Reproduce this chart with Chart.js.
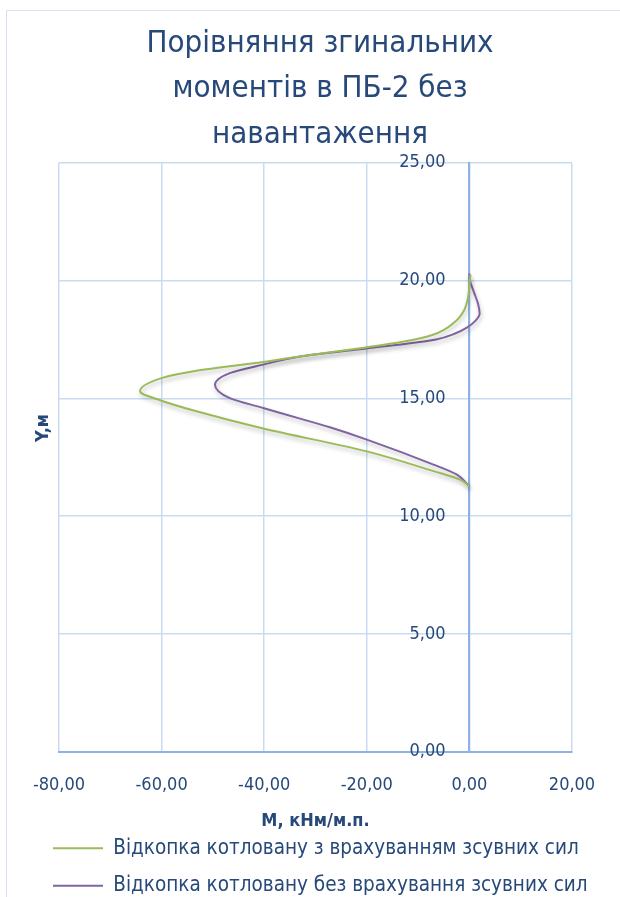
<!DOCTYPE html>
<html><head><meta charset="utf-8">
<script src="https://cdn.jsdelivr.net/npm/chart.js@4/dist/chart.umd.min.js"></script>
<style>
html,body{margin:0;padding:0;background:#fff;}
#frame{position:absolute;left:6px;top:10px;width:630px;height:900px;border:1px solid #d6e2f2;box-sizing:border-box;}
#wrap{position:absolute;left:0;top:0;width:620px;height:897px;}
</style></head>
<body>
<div id="frame"></div>
<div id="wrap"><canvas id="c" width="620" height="897"></canvas></div>
<script>
const titleLines = ['Порівняння згинальних', 'моментів в ПБ-2 без', 'навантаження'];
const seriesNames = ['Відкопка котловану з врахуванням зсувних сил', 'Відкопка котловану без врахування зсувних сил'];
const xTitle = 'М, кНм/м.п.';
const yTitle = 'Y,м';
const xTicks = [-80, -60, -40, -20, 0, 20];
const yTicks = [0, 5, 10, 15, 20, 25];

const greenY = [20.25, 19.75, 19.25, 18.75, 18.25, 17.7, 17.4, 17.15, 16.78, 16.54, 16.17, 15.86, 15.3, 14.9, 14.45, 13.72, 12.75, 11.91, 11.55, 11.27];
const greenM = [0.2, 0.0, -0.3, -1.0, -2.8, -7.1, -13.0, -20.5, -33.0, -40.2, -53.2, -60.0, -64.2, -60.0, -53.2, -40.2, -20.0, -7.0, -1.8, 0.0];
const purpleY = [20.3, 20.0, 19.5, 19.0, 18.6, 18.3, 18.0, 17.75, 17.5, 17.3, 17.12, 16.78, 16.43, 16.07, 15.58, 15.01, 14.59, 14.14, 13.77, 13.25, 12.19, 11.77, 11.27];
const purpleM = [0.0, 0.1, 0.9, 1.7, 2.0, 1.2, -0.5, -2.8, -6.5, -13.0, -20.0, -33.0, -40.2, -46.7, -49.6, -46.7, -40.2, -33.0, -27.2, -20.0, -7.0, -2.5, 0.0];

const FONT = "'DejaVu Sans Condensed', 'Roboto', sans-serif";
const BLUE = '#27497a';
const GRID = '#c9dbf1';
const AXIS = '#8db3e2';
const fmt = v => v.toFixed(2).replace('.', ',');
const pts = (xs, ys) => xs.map((x, i) => ({x: x, y: ys[i]}));

const shadowPlugin = {
  id: 'shadow',
  beforeDatasetDraw(chart) { const c = chart.ctx; c.save(); c.shadowColor = 'rgba(0,0,0,0.25)'; c.shadowBlur = 4; c.shadowOffsetY = 3; c.shadowOffsetX = 1; },
  afterDatasetDraw(chart) { chart.ctx.restore(); }
};
const yTitlePlugin = {
  id: 'ytitle',
  afterDraw(chart) {
    const c = chart.ctx;
    c.save();
    c.translate(43, 428);
    c.rotate(-Math.PI / 2);
    c.fillStyle = BLUE; c.font = 'bold 18px ' + FONT;
    c.textAlign = 'center'; c.textBaseline = 'middle';
    c.fillText(yTitle, 0, 0);
    c.restore();
  }
};

const lineDs = (label, xs, ys, color) => ({
  label: label, data: pts(xs, ys), showLine: true, borderColor: color, backgroundColor: color,
  borderWidth: 2, pointRadius: 0, indexAxis: 'y', cubicInterpolationMode: 'monotone', pointStyle: 'line'
});
const padAxis = (pos, w) => ({
  type: 'linear', position: pos, display: true,
  ticks: {display: false}, grid: {display: false}, border: {display: false},
  afterFit: s => { s.width = w; }
});

new Chart(document.getElementById('c'), {
  type: 'scatter',
  data: {
    datasets: [
      lineDs(seriesNames[0], greenM, greenY, '#9bbb59'),
      lineDs(seriesNames[1], purpleM, purpleY, '#8064a2')
    ]
  },
  options: {
    responsive: false, animation: false,
    layout: {padding: {left: 36, right: 16, top: 0, bottom: -9}},
    plugins: {
      tooltip: {enabled: false},
      title: {display: true, text: titleLines, color: BLUE, font: {family: FONT, size: 31, weight: 'normal', lineHeight: 1.47}, padding: {top: 21, bottom: 5}},
      legend: {
        position: 'bottom', align: 'start',
        labels: {usePointStyle: true, pointStyle: 'line', pointStyleWidth: 50, boxHeight: 2, color: BLUE, font: {family: FONT, size: 20.5}, padding: 17}
      }
    },
    scales: {
      x: {
        type: 'linear', min: -80, max: 20,
        afterBuildTicks: s => { s.ticks = xTicks.map(v => ({value: v})); },
        ticks: {callback: v => fmt(v), color: BLUE, font: {family: FONT, size: 18}, padding: 23, maxRotation: 0},
        grid: {color: GRID, lineWidth: 1.5, drawTicks: false},
        border: {color: AXIS, width: 2},
        title: {display: true, text: xTitle, color: BLUE, font: {family: FONT, size: 18, weight: 'bold'}, padding: {top: -9, bottom: -11}}
      },
      y: {
        type: 'linear', min: 0, max: 25, position: {x: 0},
        afterBuildTicks: s => { s.ticks = yTicks.map(v => ({value: v})); },
        ticks: {callback: v => fmt(v) + '    \u2009', color: BLUE, font: {family: FONT, size: 18}},
        grid: {color: GRID, lineWidth: 1.5, drawTicks: false},
        border: {color: AXIS, width: 2}
      },
      yPadL: padAxis('left', 23),
      yPadR: padAxis('right', 32)
    }
  },
  plugins: [shadowPlugin, yTitlePlugin]
});
</script>
</body></html>
